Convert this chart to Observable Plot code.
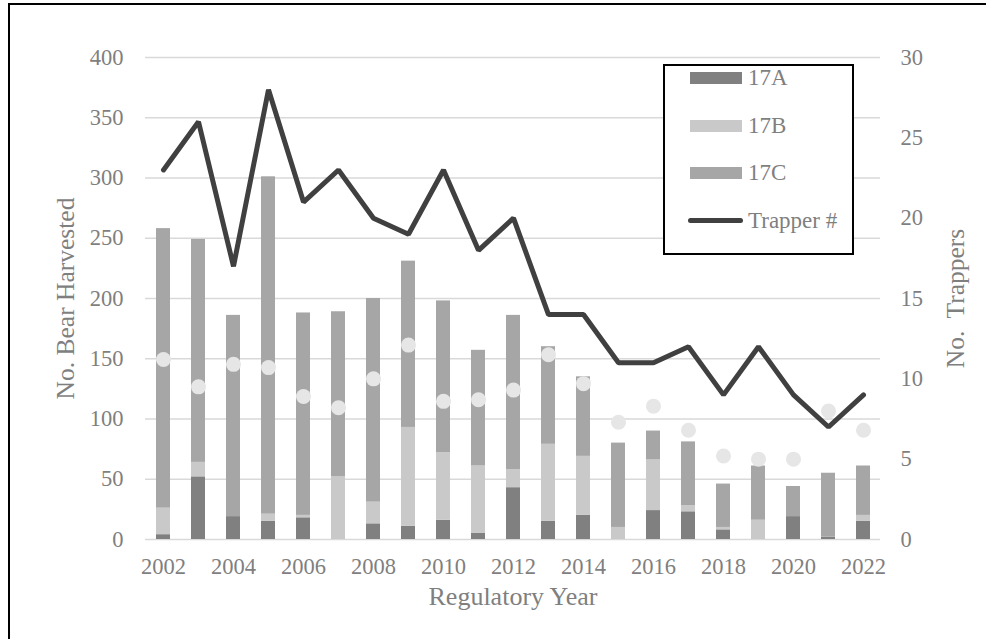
<!DOCTYPE html>
<html>
<head>
<meta charset="utf-8">
<script src="https://cdn.jsdelivr.net/npm/d3@7"></script>
<script src="https://cdn.jsdelivr.net/npm/@observablehq/plot@0.6"></script>
<style>
  html, body { margin: 0; padding: 0; background: #fff; }
  #wrap { position: relative; width: 986px; height: 639px; overflow: hidden; font-family: "Liberation Serif", "Times New Roman", serif; }
  #frame { position: absolute; left: 8px; top: 3px; width: 980px; height: 660px; border-left: 2px solid #000; border-top: 2px solid #000; box-sizing: border-box; pointer-events: none; }
  #legend { position: absolute; left: 663px; top: 64px; width: 191px; height: 191px; border: 2px solid #000; background: #fff; box-sizing: border-box; }
  .sw { position: absolute; }
  .lt { position: absolute; color: #7f7f7f; font-size: 23px; line-height: 1; white-space: pre; }
  svg { display: block; }
</style>
</head>
<body>
<div id="wrap"></div>
<script>
const years = [2002,2003,2004,2005,2006,2007,2008,2009,2010,2011,2012,2013,2014,2015,2016,2017,2018,2019,2020,2021,2022];
const harvest17A = [4,52,19,15,18,0,13,11,16,5,43,15,20,0,24,23,8,0,19,2,15];
const harvest17B = [22,12,0,6,2,52,18,82,56,56,15,64,49,10,42,5,2,16,0,0,5];
const harvest17C = [232,185,167,280,168,137,169,138,126,96,128,81,66,70,24,53,36,45,25,53,41];
const trappers = [23,26,17,28,21,23,20,19,23,18,20,14,14,11,11,12,9,12,9,7,9];
const bearsPerTrapper = [11.2,9.5,10.9,10.7,8.9,8.2,10.0,12.1,8.6,8.7,9.3,11.5,9.7,7.3,8.3,6.8,5.2,5.0,5.0,8.0,6.8];
const seriesNames = ["17A","17B","17C"];
const seriesColors = ["#808080","#c9c9c9","#a6a6a6"];
const leftTicks = [0,50,100,150,200,250,300,350,400];
const rightTicks = [0,5,10,15,20,25,30];
const xTickLabels = [2002,2004,2006,2008,2010,2012,2014,2016,2018,2020,2022];
const lineColor = "#404040";
const dotColor = "#e6e6e6";
const textColor = "#7f7f7f";

const k = 400 / 30; // right-axis (trappers) to left-axis units

const stacked = [];
const seriesArrays = [harvest17A, harvest17B, harvest17C];
years.forEach((yr, i) => {
  seriesNames.forEach((s, j) => stacked.push({year: yr, series: s, value: seriesArrays[j][i]}));
});
const rows = years.map((yr, i) => ({year: yr, trappers: trappers[i], per: bearsPerTrapper[i]}));

const font = '"Liberation Serif", "Times New Roman", serif';

const chart = Plot.plot({
  width: 986,
  height: 639,
  marginLeft: 145,
  marginRight: 106,
  marginTop: 57,
  marginBottom: 100,
  style: {fontFamily: font, background: "transparent"},
  x: {type: "band", domain: years, paddingInner: 0.61, paddingOuter: 0.305},
  y: {domain: [0, 400]},
  color: {domain: seriesNames, range: seriesColors},
  marks: [
    Plot.ruleY(leftTicks, {stroke: "#d9d9d9", strokeWidth: 1.5}),
    Plot.barY(stacked, {x: "year", y: "value", fill: "series", order: seriesNames}),
    Plot.dot(rows, {x: "year", y: d => d.per * k, r: 7.5, fill: dotColor, stroke: "none"}),
    Plot.line(rows, {x: "year", y: d => d.trappers * k, stroke: lineColor, strokeWidth: 5, strokeLinejoin: "miter", strokeLinecap: "round"}),
    Plot.axisY(leftTicks, {anchor: "left", tickSize: 0, tickPadding: 22, fontSize: 22.5, color: textColor, label: null}),
    Plot.axisY(rightTicks.map(v => v * k), {anchor: "right", tickSize: 0, tickPadding: 20, fontSize: 22.5, color: textColor, label: null, tickFormat: d => String(Math.round(d / k))}),
    Plot.axisX(xTickLabels, {anchor: "bottom", tickSize: 0, tickPadding: 19, fontSize: 22.5, color: textColor, label: null, tickFormat: d => String(d)}),
    Plot.text(["No. Bear Harvested"], {frameAnchor: "left", dx: -80, rotate: -90, textAnchor: "middle", fontSize: 25.5, fill: textColor}),
    Plot.text(["No.  Trappers"], {frameAnchor: "right", dx: 75, rotate: -90, textAnchor: "middle", fontSize: 25.5, fill: textColor}),
    Plot.text(["Regulatory Year"], {frameAnchor: "bottom", dy: 65, textAnchor: "middle", fontSize: 26, fill: textColor})
  ]
});

const wrap = document.getElementById("wrap");
wrap.appendChild(chart);
const frame = document.createElement("div");
frame.id = "frame";
wrap.appendChild(frame);

// Legend
const legend = document.createElement("div");
legend.id = "legend";
wrap.appendChild(legend);
const legendItems = [
  {label: "17A", color: seriesColors[0], kind: "bar"},
  {label: "17B", color: seriesColors[1], kind: "bar"},
  {label: "17C", color: seriesColors[2], kind: "bar"},
  {label: "Trapper #", color: lineColor, kind: "line"}
];
const legendCy = [76, 123.5, 171, 218.5];
legendItems.forEach((it, i) => {
  const sw = document.createElement("div");
  sw.className = "sw";
  const cy = legendCy[i];
  if (it.kind === "bar") {
    sw.style.left = (688 - 663) + "px";
    sw.style.top = (cy - 6 - 64) + "px";
    sw.style.width = "52px";
    sw.style.height = "12px";
  } else {
    sw.style.left = (686 - 663) + "px";
    sw.style.top = (cy - 2.5 - 64) + "px";
    sw.style.width = "55px";
    sw.style.height = "5px";
    sw.style.borderRadius = "3px";
  }
  sw.style.background = it.color;
  legend.appendChild(sw);
  const t = document.createElement("div");
  t.className = "lt";
  t.textContent = it.label;
  t.style.left = (746 - 663) + "px";
  t.style.top = (cy - 12 - 64) + "px";
  legend.appendChild(t);
});
</script>
</body>
</html>
